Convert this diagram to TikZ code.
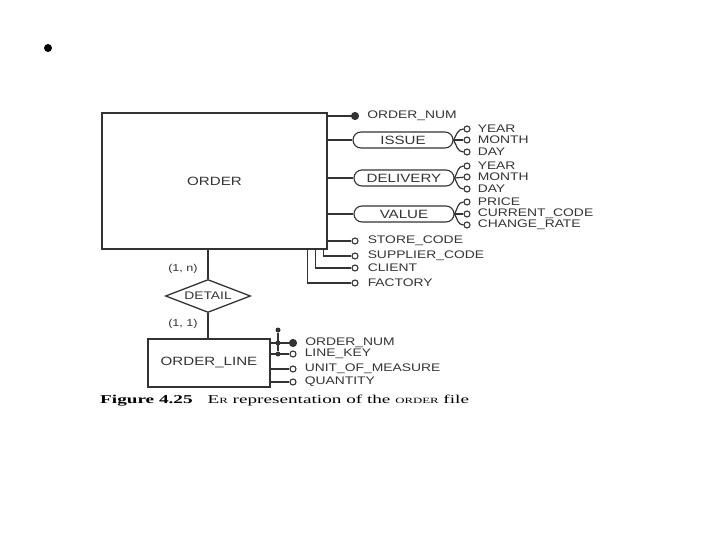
\documentclass[tikz,border=0pt]{standalone}
\usepackage{fontspec}
\setmainfont{Liberation Serif}
\newfontfamily\erfont[FakeStretch=1.26]{Liberation Sans}
\newfontfamily\capfont[FakeStretch=1.6]{Liberation Serif}
\usetikzlibrary{positioning, shapes.geometric, calc}
\definecolor{inkgray}{HTML}{333333}

\begin{document}
\begin{tikzpicture}[
        x=1pt, y=-1pt,
        entity/.style={
            rectangle, draw=inkgray, line width=1.3pt, text=inkgray,
            font=\erfont\fontsize{12}{14}\selectfont, inner sep=0pt
        },
        relation/.style={
            diamond, aspect=2.6, draw=inkgray, line width=1.3pt, text=inkgray,
            font=\erfont\fontsize{11}{13}\selectfont, inner sep=0pt,
            minimum width=85pt, minimum height=33pt
        },
        compound/.style={
            rectangle, rounded corners=8pt, draw=inkgray, line width=1.1pt,
            text=inkgray, font=\erfont\fontsize{12}{14}\selectfont,
            minimum width=100pt, minimum height=16pt, inner sep=0pt
        },
        attr/.style={circle, draw=inkgray, fill=white, line width=1.1pt,
            minimum size=6pt, inner sep=0pt},
        keyattr/.style={attr, fill=inkgray, minimum size=7pt},
        iddot/.style={circle, fill=inkgray, minimum size=5pt, inner sep=0pt},
        bullet/.style={circle, fill=black, minimum size=8pt, inner sep=0pt},
        attrname/.style={font=\erfont\fontsize{11}{13}\selectfont,
            text=inkgray, inner sep=1pt},
        card/.style={font=\erfont\fontsize{10}{12}\selectfont, text=inkgray},
        link/.style={draw=inkgray, line width=1.2pt},
    ]
    \useasboundingbox (0,0) rectangle (720,540);

    % Slide bullet
    \node[bullet] (dot) at (48,48) {};

    % ---- Entities and relationship ----
    \node[entity, minimum width=225pt, minimum height=136pt] (order) at (214.5,181) {ORDER};
    \node[relation] (detail) at (208,296) {DETAIL};
    \node[entity, minimum width=122pt, minimum height=48pt] (oline) at (209,363) {ORDER\_LINE};

    \node[card] (cardn) at (183,269) {(1, n)};
    \node[card] (card1) at (183,324) {(1, 1)};

    % ---- Compound attributes of ORDER ----
    \node[compound] (issue) at (403,140) {ISSUE};
    \node[compound] (deliv) at (404,178) {DELIVERY};
    \node[compound] (value) at (404,214) {VALUE};

    % ---- Simple attributes of ORDER ----
    \node[keyattr] (onum) at (355,116) {};
    \node[attr] (store) at (355,241) {};
    \node[attr] (suppl) at (355,256) {};
    \node[attr] (client) at (355,268) {};
    \node[attr] (factory) at (355,283) {};

    \node[attrname, right=7pt of onum] (onumt) {ORDER\_NUM};
    \node[attrname, right=8pt of store] (storet) {STORE\_CODE};
    \node[attrname, right=8pt of suppl] (supplt) {SUPPLIER\_CODE};
    \node[attrname, right=8pt of client] (clientt) {CLIENT};
    \node[attrname, right=8pt of factory] (factoryt) {FACTORY};

    % ---- Sub-attributes ----
    \node[attr] (iy) at (467,129) {};
    \node[attr] (im) at (467,140) {};
    \node[attr] (id) at (467,152) {};
    \node[attr] (dy) at (467,166) {};
    \node[attr] (dm) at (467,177) {};
    \node[attr] (dd) at (467,189) {};
    \node[attr] (vp) at (467,202) {};
    \node[attr] (vc) at (467,214) {};
    \node[attr] (vr) at (467,225) {};

    \node[attrname, right=6pt of iy] (iyt) {YEAR};
    \node[attrname, right=6pt of im] (imt) {MONTH};
    \node[attrname, right=6pt of id] (idt) {DAY};
    \node[attrname, right=6pt of dy] (dyt) {YEAR};
    \node[attrname, right=6pt of dm] (dmt) {MONTH};
    \node[attrname, right=6pt of dd] (ddt) {DAY};
    \node[attrname, right=6pt of vp] (vpt) {PRICE};
    \node[attrname, right=6pt of vc] (vct) {CURRENT\_CODE};
    \node[attrname, right=6pt of vr] (vrt) {CHANGE\_RATE};

    % ---- Attributes of ORDER_LINE ----
    \node[keyattr] (lnum) at (293,343) {};
    \node[attr] (lkey) at (293,354) {};
    \node[attr] (lunit) at (293,369) {};
    \node[attr] (lqty) at (293,382) {};

    \node[attrname, right=7pt of lnum] (lnumt) {ORDER\_NUM};
    \node[attrname, right=7pt of lkey] (lkeyt) {LINE\_KEY};
    \node[attrname, right=7pt of lunit] (lunitt) {UNIT\_OF\_MEASURE};
    \node[attrname, right=7pt of lqty] (lqtyt) {QUANTITY};

    % composite identifier
    \node[iddot] (idtop) at (278,330) {};
    \node[iddot] (idnum) at (278,343) {};
    \node[iddot] (idkey) at (278,354) {};

    % ---- Edges: ORDER ----
    \draw[link] (order.east |- onum) -- (onum);
    \draw[link] (order.east |- issue) -- (issue);
    \draw[link] (order.east |- deliv) -- (deliv);
    \draw[link] (order.east |- value) -- (value);
    \draw[link] (order.east |- store) -- (store);
    \draw[link] ([xshift=-4pt]order.south east) |- (suppl);
    \draw[link] ([xshift=-12pt]order.south east) |- (client);
    \draw[link] ([xshift=-20pt]order.south east) |- (factory);

    % ---- Edges: compound attributes ----
    \draw[link] (issue.east) to[out=60, in=180] (iy);
    \draw[link] (issue.east) -- (im);
    \draw[link] (issue.east) to[out=-60, in=180] (id);
    \draw[link] (deliv.east) to[out=60, in=180] (dy);
    \draw[link] (deliv.east) -- (dm);
    \draw[link] (deliv.east) to[out=-60, in=180] (dd);
    \draw[link] (value.east) to[out=60, in=180] (vp);
    \draw[link] (value.east) -- (vc);
    \draw[link] (value.east) to[out=-60, in=180] (vr);

    % ---- Edges: relationship ----
    \draw[link] (detail.north) -- (detail.north |- order.south);
    \draw[link] (detail.south) -- (detail.south |- oline.north);

    % ---- Edges: ORDER_LINE ----
    \draw[link] (oline.east |- lnum) -- (lnum);
    \draw[link] (oline.east |- lkey) -- (lkey);
    \draw[link] (oline.east |- lunit) -- (lunit);
    \draw[link] (oline.east |- lqty) -- (lqty);
    \draw[link] (idtop) -- (idkey);

    % Caption
    \node[anchor=west, inner sep=0pt, font=\capfont\fontsize{12}{14}\selectfont] (caption) at (100,401)
        {\textbf{Figure 4.25}\hspace{15pt}E{\footnotesize R} representation of the {\footnotesize ORDER} file};

\end{tikzpicture}
\end{document}
